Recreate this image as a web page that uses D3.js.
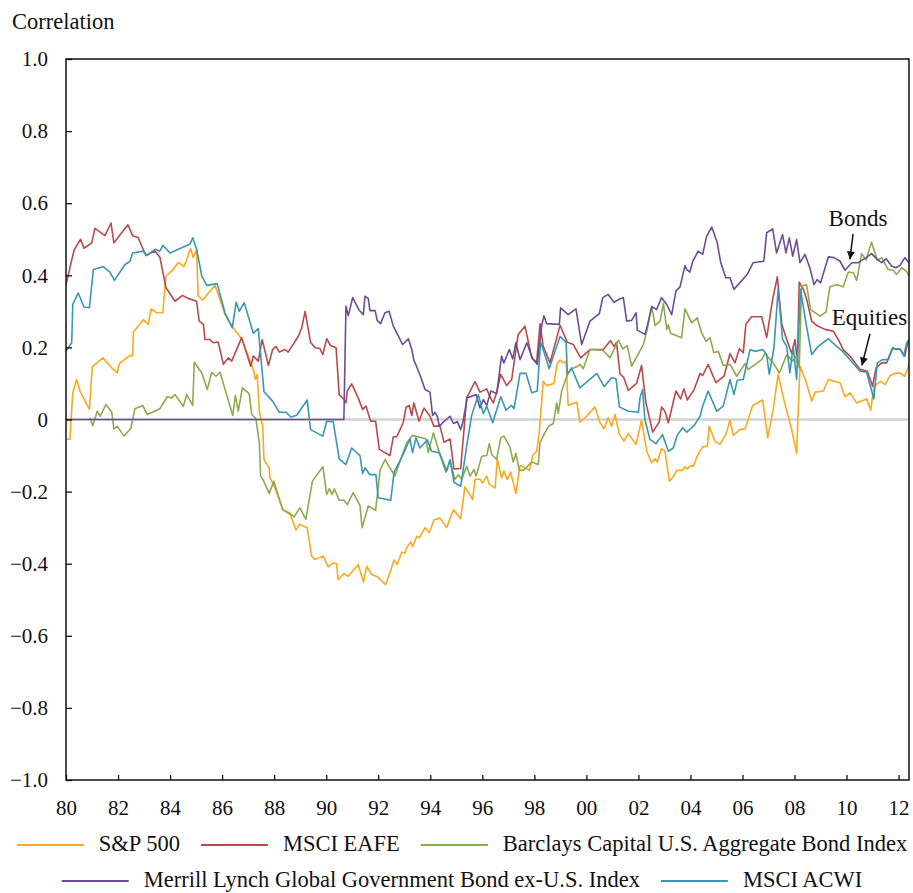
<!DOCTYPE html>
<html>
<head>
<meta charset="utf-8">
<script src="https://cdn.jsdelivr.net/npm/d3@7"></script>
<style>
  body { margin: 0; background: #fff; }
  svg { display: block; font-family: "Liberation Serif", "Times New Roman", serif; }
</style>
</head>
<body>
<div id="chart"></div>
<script>
// [decimal year, correlation]
const sp500 = [[1980.03,-0.054],[1980.15,-0.055],[1980.26,0.074],[1980.41,0.111],[1980.54,0.079],[1980.90,0.028],[1981.01,0.146],[1981.41,0.171],[1981.76,0.143],[1981.97,0.129],[1982.05,0.155],[1982.46,0.178],[1982.56,0.176],[1982.59,0.242],[1982.97,0.277],[1983.16,0.264],[1983.27,0.307],[1983.49,0.296],[1983.72,0.296],[1983.84,0.398],[1984.12,0.416],[1984.32,0.436],[1984.53,0.424],[1984.64,0.444],[1984.79,0.474],[1984.89,0.449],[1985.02,0.472],[1985.08,0.344],[1985.25,0.331],[1985.53,0.356],[1985.73,0.372],[1986.11,0.291],[1986.43,0.254],[1986.75,0.224],[1987.20,0.139],[1987.28,0.111],[1987.35,0.125],[1987.43,0.023],[1987.56,-0.019],[1987.61,-0.111],[1987.81,-0.134],[1987.84,-0.162],[1988.03,-0.19],[1988.33,-0.25],[1988.64,-0.266],[1988.84,-0.307],[1988.97,-0.291],[1989.27,-0.30],[1989.44,-0.379],[1989.57,-0.388],[1989.89,-0.379],[1990.08,-0.409],[1990.27,-0.398],[1990.40,-0.40],[1990.46,-0.444],[1990.68,-0.427],[1990.85,-0.435],[1991.23,-0.402],[1991.43,-0.451],[1991.56,-0.407],[1991.75,-0.43],[1991.96,-0.436],[1992.29,-0.458],[1992.45,-0.425],[1992.61,-0.39],[1992.73,-0.402],[1992.90,-0.368],[1993.03,-0.37],[1993.09,-0.356],[1993.25,-0.34],[1993.32,-0.353],[1993.48,-0.324],[1993.58,-0.328],[1993.80,-0.30],[1993.96,-0.314],[1994.14,-0.279],[1994.37,-0.273],[1994.63,-0.30],[1994.89,-0.25],[1995.17,-0.275],[1995.33,-0.187],[1995.63,-0.222],[1995.72,-0.166],[1995.91,-0.165],[1996.01,-0.176],[1996.17,-0.157],[1996.27,-0.18],[1996.49,-0.19],[1996.58,-0.111],[1996.74,-0.162],[1996.83,-0.143],[1996.96,-0.166],[1997.09,-0.146],[1997.29,-0.205],[1997.45,-0.128],[1997.55,-0.13],[1997.81,-0.141],[1997.94,-0.10],[1998.09,-0.088],[1998.19,-0.037],[1998.34,0.106],[1998.47,0.094],[1998.75,0.10],[1998.88,0.155],[1998.99,0.165],[1999.11,0.157],[1999.22,0.162],[1999.30,0.039],[1999.63,0.048],[1999.75,-0.007],[2000.01,0.009],[2000.33,0.035],[2000.50,-0.005],[2000.68,-0.026],[2000.84,0.005],[2000.97,-0.019],[2001.10,0.014],[2001.26,-0.039],[2001.44,-0.06],[2001.61,-0.039],[2001.91,-0.069],[2002.12,-0.002],[2002.32,-0.088],[2002.51,-0.12],[2002.64,-0.109],[2002.72,-0.118],[2002.89,-0.081],[2003.02,-0.088],[2003.19,-0.171],[2003.34,-0.159],[2003.47,-0.141],[2003.70,-0.141],[2003.79,-0.131],[2003.88,-0.137],[2004.01,-0.128],[2004.11,-0.13],[2004.26,-0.102],[2004.47,-0.076],[2004.65,-0.074],[2004.72,-0.019],[2004.94,-0.06],[2005.13,-0.069],[2005.36,-0.042],[2005.52,-0.002],[2005.65,-0.044],[2005.90,-0.028],[2006.10,-0.026],[2006.39,0.039],[2006.78,0.054],[2006.97,-0.051],[2007.18,0.028],[2007.37,0.125],[2007.57,0.06],[2007.89,-0.028],[2008.08,-0.094],[2008.21,0.148],[2008.44,0.106],[2008.66,0.051],[2008.79,0.076],[2009.11,0.079],[2009.30,0.111],[2009.52,0.106],[2009.75,0.102],[2009.94,0.063],[2010.13,0.074],[2010.39,0.046],[2010.77,0.057],[2010.93,0.026],[2011.05,0.092],[2011.31,0.106],[2011.48,0.097],[2011.67,0.122],[2011.86,0.128],[2012.05,0.129],[2012.24,0.12],[2012.40,0.153]];

const msciEafe = [[1980.00,0.374],[1980.31,0.47],[1980.56,0.50],[1980.69,0.475],[1980.99,0.49],[1981.11,0.53],[1981.50,0.51],[1981.73,0.545],[1981.84,0.49],[1982.38,0.54],[1982.56,0.51],[1982.77,0.505],[1983.07,0.455],[1983.42,0.467],[1983.61,0.45],[1983.84,0.366],[1984.19,0.328],[1984.48,0.344],[1984.69,0.336],[1985.02,0.328],[1985.12,0.273],[1985.28,0.264],[1985.34,0.222],[1985.53,0.222],[1985.66,0.213],[1985.85,0.215],[1986.05,0.153],[1986.24,0.171],[1986.37,0.162],[1986.75,0.227],[1987.10,0.148],[1987.20,0.176],[1987.39,0.162],[1987.54,0.222],[1987.78,0.15],[1987.94,0.194],[1988.07,0.203],[1988.20,0.187],[1988.42,0.194],[1988.54,0.187],[1988.93,0.231],[1989.06,0.254],[1989.19,0.30],[1989.40,0.214],[1989.57,0.199],[1989.76,0.197],[1989.87,0.18],[1990.02,0.224],[1990.17,0.205],[1990.38,0.199],[1990.50,0.069],[1990.63,0.06],[1990.76,0.046],[1990.81,0.079],[1990.98,0.099],[1991.23,0.06],[1991.40,0.028],[1991.53,0.037],[1991.71,-0.005],[1991.90,-0.005],[1992.04,-0.083],[1992.45,-0.10],[1992.58,-0.048],[1992.71,-0.048],[1992.96,-0.009],[1993.07,0.034],[1993.19,0.039],[1993.29,0.011],[1993.37,0.046],[1993.57,-0.005],[1993.76,0.032],[1993.99,0.009],[1994.14,-0.019],[1994.37,-0.017],[1994.53,-0.063],[1994.76,-0.054],[1994.91,-0.137],[1995.17,-0.136],[1995.40,0.06],[1995.50,0.074],[1995.72,0.105],[1995.91,0.076],[1996.17,0.085],[1996.27,0.067],[1996.42,0.046],[1996.55,0.074],[1996.71,0.125],[1996.94,0.094],[1997.13,0.111],[1997.38,0.236],[1997.64,0.259],[1997.90,0.171],[1998.09,0.159],[1998.22,0.266],[1998.34,0.203],[1998.60,0.157],[1998.99,0.261],[1999.27,0.214],[1999.50,0.208],[1999.78,0.171],[2000.14,0.194],[2000.65,0.194],[2000.93,0.219],[2001.06,0.203],[2001.16,0.214],[2001.29,0.127],[2001.44,0.116],[2001.61,0.081],[2001.93,0.10],[2002.12,0.15],[2002.29,0.046],[2002.55,-0.035],[2002.80,-0.007],[2002.89,0.035],[2003.02,0.023],[2003.15,-0.009],[2003.44,0.079],[2003.62,0.057],[2003.75,0.085],[2003.88,0.054],[2004.14,0.083],[2004.37,0.128],[2004.47,0.122],[2004.68,0.153],[2004.98,0.102],[2005.29,0.12],[2005.52,0.183],[2005.71,0.157],[2005.88,0.196],[2006.03,0.185],[2006.13,0.264],[2006.35,0.285],[2006.74,0.285],[2006.93,0.227],[2007.16,0.333],[2007.34,0.396],[2007.51,0.264],[2007.70,0.222],[2007.89,0.183],[2008.02,0.222],[2008.11,0.157],[2008.18,0.381],[2008.34,0.361],[2008.47,0.333],[2008.66,0.273],[2008.85,0.261],[2009.17,0.25],[2009.49,0.245],[2009.68,0.222],[2009.87,0.194],[2010.13,0.176],[2010.52,0.139],[2010.80,0.134],[2011.00,0.092],[2011.13,0.143],[2011.35,0.157],[2011.54,0.157],[2011.77,0.199],[2011.92,0.194],[2012.05,0.196],[2012.24,0.176],[2012.33,0.208],[2012.40,0.217]];

const barclaysAgg = [[1980.92,0.005],[1981.03,-0.017],[1981.20,0.023],[1981.31,0.009],[1981.54,0.042],[1981.76,0.02],[1981.84,-0.026],[1981.97,-0.019],[1982.23,-0.046],[1982.49,-0.025],[1982.65,0.03],[1982.95,0.039],[1983.12,0.014],[1983.61,0.03],[1983.89,0.063],[1984.06,0.06],[1984.19,0.069],[1984.51,0.037],[1984.64,0.069],[1984.87,0.039],[1984.93,0.159],[1985.22,0.129],[1985.43,0.083],[1985.60,0.131],[1985.76,0.12],[1985.92,0.131],[1986.41,0.011],[1986.51,0.067],[1986.62,0.023],[1986.78,0.088],[1987.04,0.072],[1987.14,0.014],[1987.30,0.002],[1987.43,-0.065],[1987.48,-0.157],[1987.58,-0.168],[1987.81,-0.205],[1987.99,-0.171],[1988.33,-0.25],[1988.58,-0.259],[1988.77,-0.27],[1988.99,-0.245],[1989.22,-0.277],[1989.47,-0.171],[1989.87,-0.131],[1990.02,-0.208],[1990.12,-0.192],[1990.23,-0.208],[1990.31,-0.192],[1990.50,-0.224],[1990.68,-0.224],[1990.81,-0.236],[1991.04,-0.203],[1991.30,-0.239],[1991.38,-0.30],[1991.62,-0.24],[1991.90,-0.252],[1992.07,-0.141],[1992.26,-0.111],[1992.64,-0.157],[1992.84,-0.116],[1993.09,-0.065],[1993.32,-0.044],[1993.84,-0.054],[1993.92,-0.092],[1994.12,-0.037],[1994.37,-0.097],[1994.60,-0.146],[1994.76,-0.116],[1994.95,-0.166],[1995.08,-0.153],[1995.21,-0.166],[1995.40,-0.13],[1995.53,-0.157],[1995.68,-0.139],[1995.76,-0.157],[1995.98,-0.102],[1996.17,-0.10],[1996.27,-0.067],[1996.36,-0.097],[1996.55,-0.111],[1996.71,-0.051],[1996.83,-0.046],[1997.06,-0.076],[1997.19,-0.118],[1997.29,-0.094],[1997.42,-0.141],[1997.58,-0.141],[1997.90,-0.118],[1998.15,-0.125],[1998.22,-0.063],[1998.54,-0.019],[1998.73,-0.011],[1998.86,0.046],[1998.92,0.017],[1999.05,0.079],[1999.27,0.125],[1999.43,0.141],[1999.63,0.146],[1999.75,0.153],[1999.88,0.141],[2000.14,0.194],[2000.63,0.192],[2000.91,0.171],[2001.23,0.22],[2001.40,0.196],[2001.57,0.205],[2001.74,0.148],[2002.19,0.208],[2002.34,0.25],[2002.51,0.313],[2002.64,0.261],[2002.83,0.273],[2002.96,0.322],[2003.09,0.25],[2003.15,0.263],[2003.24,0.239],[2003.66,0.227],[2003.79,0.307],[2004.05,0.268],[2004.26,0.282],[2004.43,0.24],[2004.60,0.217],[2004.75,0.227],[2004.90,0.185],[2005.07,0.189],[2005.26,0.15],[2005.52,0.153],[2005.78,0.12],[2006.10,0.155],[2006.22,0.139],[2006.74,0.166],[2006.86,0.183],[2007.18,0.157],[2007.42,0.129],[2007.70,0.18],[2007.93,0.162],[2008.08,0.176],[2008.18,0.143],[2008.27,0.37],[2008.46,0.374],[2008.62,0.305],[2008.98,0.287],[2009.21,0.298],[2009.36,0.368],[2009.64,0.374],[2009.87,0.368],[2010.07,0.409],[2010.26,0.407],[2010.39,0.386],[2010.58,0.46],[2010.75,0.442],[2010.96,0.492],[2011.18,0.442],[2011.35,0.449],[2011.60,0.416],[2011.79,0.414],[2011.92,0.402],[2012.12,0.421],[2012.31,0.411],[2012.40,0.398]];

const merrillGovt = [[1980.00,0],[1990.68,0],[1990.76,0.314],[1990.85,0.288],[1991.02,0.338],[1991.27,0.303],[1991.43,0.291],[1991.49,0.342],[1991.62,0.335],[1991.68,0.302],[1991.88,0.302],[1991.96,0.275],[1992.09,0.266],[1992.26,0.296],[1992.42,0.30],[1992.58,0.259],[1992.94,0.208],[1993.16,0.224],[1993.29,0.194],[1993.37,0.165],[1993.60,0.125],[1993.80,0.083],[1993.99,0.076],[1994.09,0.011],[1994.18,0.02],[1994.27,0.009],[1994.35,-0.019],[1994.50,-0.007],[1994.76,0.009],[1994.89,-0.011],[1995.04,-0.006],[1995.17,-0.028],[1995.25,-0.009],[1995.42,0.06],[1995.76,0.069],[1995.91,0.032],[1996.04,0.055],[1996.17,0.039],[1996.33,0.079],[1996.55,0.072],[1996.61,0.102],[1996.74,0.176],[1996.83,0.157],[1997.04,0.194],[1997.17,0.168],[1997.29,0.213],[1997.45,0.166],[1997.71,0.213],[1997.94,0.168],[1998.11,0.153],[1998.28,0.259],[1998.37,0.288],[1998.47,0.266],[1998.96,0.264],[1999.01,0.31],[1999.30,0.291],[1999.60,0.307],[1999.82,0.208],[2000.14,0.273],[2000.50,0.294],[2000.63,0.338],[2000.84,0.347],[2001.06,0.325],[2001.29,0.335],[2001.42,0.338],[2001.55,0.273],[2001.74,0.275],[2001.91,0.296],[2001.96,0.248],[2002.25,0.236],[2002.34,0.259],[2002.51,0.313],[2002.70,0.305],[2002.89,0.338],[2003.09,0.319],[2003.28,0.291],[2003.44,0.356],[2003.60,0.368],[2003.79,0.427],[2003.86,0.416],[2003.98,0.409],[2004.09,0.439],[2004.30,0.467],[2004.47,0.458],[2004.62,0.508],[2004.82,0.534],[2005.03,0.49],[2005.16,0.436],[2005.36,0.393],[2005.52,0.393],[2005.67,0.361],[2006.18,0.402],[2006.41,0.435],[2006.82,0.439],[2006.93,0.518],[2007.16,0.529],[2007.31,0.462],[2007.54,0.513],[2007.67,0.462],[2007.80,0.504],[2007.93,0.453],[2008.08,0.499],[2008.21,0.435],[2008.40,0.458],[2008.59,0.421],[2008.75,0.374],[2008.87,0.388],[2009.00,0.379],[2009.30,0.451],[2009.52,0.449],[2009.75,0.439],[2009.94,0.414],[2010.20,0.435],[2010.45,0.435],[2010.75,0.449],[2010.96,0.46],[2011.18,0.444],[2011.35,0.435],[2011.52,0.446],[2011.74,0.425],[2011.90,0.421],[2012.05,0.427],[2012.24,0.449],[2012.40,0.435]];

const msciAcwi = [[1980.00,0.19],[1980.22,0.213],[1980.26,0.319],[1980.47,0.351],[1980.69,0.312],[1980.90,0.31],[1981.05,0.416],[1981.43,0.424],[1981.69,0.409],[1981.86,0.386],[1982.27,0.43],[1982.46,0.439],[1982.56,0.462],[1982.97,0.467],[1983.10,0.455],[1983.42,0.472],[1983.61,0.467],[1983.72,0.483],[1984.00,0.462],[1984.77,0.487],[1984.87,0.504],[1985.02,0.472],[1985.22,0.398],[1985.41,0.372],[1985.81,0.377],[1986.11,0.296],[1986.39,0.254],[1986.54,0.325],[1986.66,0.30],[1986.85,0.324],[1987.20,0.239],[1987.39,0.252],[1987.61,0.077],[1987.94,0.051],[1988.20,0.02],[1988.46,0.02],[1988.64,0.007],[1988.87,0.012],[1989.27,0.054],[1989.40,-0.028],[1989.87,-0.046],[1990.02,-0.005],[1990.27,-0.006],[1990.50,-0.109],[1990.76,-0.125],[1990.98,-0.079],[1991.30,-0.10],[1991.40,-0.15],[1991.49,-0.134],[1991.68,-0.153],[1991.91,-0.153],[1992.00,-0.217],[1992.48,-0.224],[1992.61,-0.146],[1992.90,-0.106],[1993.22,-0.054],[1993.32,-0.092],[1993.45,-0.051],[1993.60,-0.079],[1993.89,-0.057],[1994.05,-0.088],[1994.35,-0.092],[1994.63,-0.143],[1994.76,-0.111],[1994.91,-0.174],[1995.17,-0.185],[1995.40,-0.074],[1995.59,0.011],[1995.85,0.069],[1996.04,0.016],[1996.17,0.037],[1996.40,-0.009],[1996.71,0.063],[1996.91,0.026],[1997.13,0.039],[1997.22,0.03],[1997.45,0.128],[1997.68,0.128],[1997.90,0.074],[1998.11,0.079],[1998.24,0.214],[1998.34,0.194],[1998.57,0.141],[1998.99,0.231],[1999.22,0.214],[1999.27,0.125],[1999.43,0.143],[1999.75,0.088],[2000.40,0.128],[2000.68,0.091],[2000.97,0.116],[2001.14,0.113],[2001.27,0.035],[2001.61,0.023],[2002.00,0.02],[2002.06,0.06],[2002.16,0.083],[2002.25,0],[2002.44,-0.055],[2002.67,-0.067],[2002.93,-0.042],[2003.15,-0.088],[2003.34,-0.079],[2003.49,-0.044],[2003.70,-0.023],[2003.86,-0.035],[2004.14,-0.017],[2004.37,0.009],[2004.47,0.037],[2004.68,0.079],[2005.01,0.023],[2005.26,0.037],[2005.52,0.111],[2005.67,0.069],[2005.80,0.109],[2006.03,0.111],[2006.29,0.194],[2006.48,0.189],[2006.78,0.194],[2006.93,0.18],[2007.03,0.125],[2007.21,0.199],[2007.37,0.361],[2007.54,0.222],[2007.70,0.203],[2007.82,0.129],[2007.95,0.203],[2008.08,0.111],[2008.23,0.361],[2008.46,0.259],[2008.66,0.18],[2008.91,0.203],[2009.30,0.224],[2009.62,0.203],[2009.85,0.189],[2010.13,0.166],[2010.52,0.134],[2010.77,0.131],[2011.05,0.057],[2011.18,0.157],[2011.39,0.166],[2011.60,0.166],[2011.77,0.196],[2012.05,0.196],[2012.20,0.176],[2012.31,0.213],[2012.40,0.222]];

const seriesNames = ["S&P 500", "MSCI EAFE", "Barclays Capital U.S. Aggregate Bond Index",
    "Merrill Lynch Global Government Bond ex-U.S. Index", "MSCI ACWI"];
const seriesColors = ["#FBA91E", "#B94A4C", "#8CAA4E", "#6B4D95", "#3A96B2"];
const seriesData = [sp500, msciEafe, barclaysAgg, merrillGovt, msciAcwi];

const yTicks = [1.0, 0.8, 0.6, 0.4, 0.2, 0, -0.2, -0.4, -0.6, -0.8, -1.0];
const xTicks = [1980, 1982, 1984, 1986, 1988, 1990, 1992, 1994, 1996, 1998, 2000,
    2002, 2004, 2006, 2008, 2010, 2012];
const legendRows = [[0, 1, 2], [3, 4]];

const width = 913, height = 893;
const plot = { left: 66, right: 909, top: 59, bottom: 780 };

const svg = d3.select("#chart")
    .append("svg")
    .attr("width", width)
    .attr("height", height);

const xScale = d3.scaleLinear()
    .domain([1980, 2012.4])
    .range([plot.left, plot.right]);

const yScale = d3.scaleLinear()
    .domain([-1, 1])
    .range([plot.bottom, plot.top]);

// y axis label
svg.append("text")
    .attr("x", 12)
    .attr("y", 29)
    .attr("font-size", 22.5)
    .attr("fill", "#111")
    .text("Correlation");

// zero line
svg.append("line")
    .attr("x1", plot.left)
    .attr("x2", plot.right)
    .attr("y1", yScale(0))
    .attr("y2", yScale(0))
    .attr("stroke", "#d2d2d2")
    .attr("stroke-width", 2.5);

svg.append("clipPath")
    .attr("id", "plot-clip")
    .append("rect")
    .attr("x", plot.left)
    .attr("y", plot.top)
    .attr("width", plot.right - plot.left)
    .attr("height", plot.bottom - plot.top);

const line = d3.line()
    .x(d => xScale(d[0]))
    .y(d => yScale(d[1]));

svg.append("g")
    .attr("clip-path", "url(#plot-clip)")
    .selectAll("path")
    .data(seriesData)
    .enter()
    .append("path")
    .attr("d", line)
    .attr("fill", "none")
    .attr("stroke", (d, i) => seriesColors[i])
    .attr("stroke-width", 1.6)
    .attr("stroke-linejoin", "round");

// axes, ticks pointing into the plot
const yFormat = v => v === 0 ? "0" : d3.format(".1f")(v).replace("-", "\u2013");

svg.append("g")
    .attr("transform", `translate(${plot.left}, 0)`)
    .call(d3.axisLeft(yScale)
        .tickValues(yTicks)
        .tickSize(-6)
        .tickPadding(18)
        .tickFormat(yFormat))
    .call(g => g.select(".domain").remove())
    .call(g => g.selectAll("line").attr("stroke", "#111").attr("stroke-width", 1.3))
    .call(g => g.selectAll("text")
        .attr("font-size", 21)
        .attr("font-family", "Liberation Serif, serif")
        .attr("fill", "#111"));

svg.append("g")
    .attr("transform", `translate(0, ${plot.bottom})`)
    .call(d3.axisBottom(xScale)
        .tickValues(xTicks)
        .tickSize(-5)
        .tickPadding(20)
        .tickFormat(y => d3.format("02")(y % 100)))
    .call(g => g.select(".domain").remove())
    .call(g => g.selectAll("line").attr("stroke", "#111").attr("stroke-width", 1.3))
    .call(g => g.selectAll("text")
        .attr("font-size", 21)
        .attr("font-family", "Liberation Serif, serif")
        .attr("fill", "#111"));

// frame
svg.append("rect")
    .attr("x", plot.left)
    .attr("y", plot.top)
    .attr("width", plot.right - plot.left)
    .attr("height", plot.bottom - plot.top)
    .attr("fill", "none")
    .attr("stroke", "#111")
    .attr("stroke-width", 1.5);

// annotations
svg.append("defs").append("marker")
    .attr("id", "arrow")
    .attr("viewBox", "0 0 10 10")
    .attr("refX", 10)
    .attr("refY", 5)
    .attr("markerWidth", 11)
    .attr("markerHeight", 8)
    .attr("markerUnits", "userSpaceOnUse")
    .attr("orient", "auto")
    .append("path")
    .attr("d", "M0,0 L10,5 L0,10 z")
    .attr("fill", "#111");

const notes = [
    { text: "Bonds", tx: 2010.44, ty: 0.538, from: [2010.25, 0.515], to: [2010.13, 0.444] },
    { text: "Equities", tx: 2010.88, ty: 0.261, from: [2010.90, 0.238], to: [2010.59, 0.150] },
];

notes.forEach(n => {
    svg.append("text")
        .attr("x", xScale(n.tx))
        .attr("y", yScale(n.ty))
        .attr("text-anchor", "middle")
        .attr("font-size", 23)
        .attr("fill", "#111")
        .text(n.text);
    svg.append("line")
        .attr("x1", xScale(n.from[0]))
        .attr("y1", yScale(n.from[1]))
        .attr("x2", xScale(n.to[0]))
        .attr("y2", yScale(n.to[1]))
        .attr("stroke", "#111")
        .attr("stroke-width", 1.5)
        .attr("marker-end", "url(#arrow)");
});

// legend, two centred rows
const lineLen = 67, lineGap = 15, itemGap = 21;
const rowY = [845, 881];
const legendCenter = 462;

legendRows.forEach((row, r) => {
    const g = svg.append("g");
    let cursor = 0;
    row.forEach(i => {
        g.append("line")
            .attr("x1", cursor)
            .attr("x2", cursor + lineLen)
            .attr("y1", rowY[r])
            .attr("y2", rowY[r])
            .attr("stroke", seriesColors[i])
            .attr("stroke-width", 2);
        const t = g.append("text")
            .attr("x", cursor + lineLen + lineGap)
            .attr("y", rowY[r] + 6)
            .attr("font-size", 22.5)
            .attr("fill", "#111")
            .text(seriesNames[i]);
        cursor += lineLen + lineGap + t.node().getComputedTextLength() + itemGap;
    });
    const total = cursor - itemGap;
    g.attr("transform", `translate(${legendCenter - total / 2}, 0)`);
});
</script>
</body>
</html>
